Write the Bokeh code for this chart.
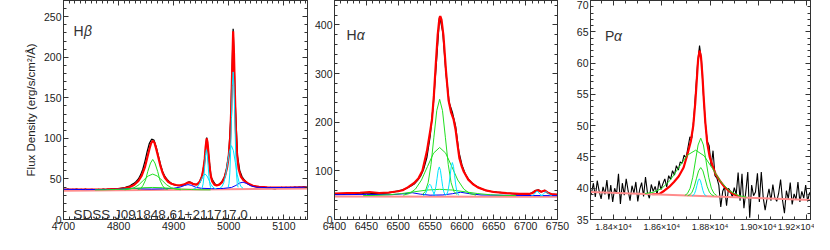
from bokeh.plotting import figure
from bokeh.layouts import row
from bokeh.models import SingleIntervalTicker, LinearAxis, Range1d, Label, CustomJSTickFormatter, Spacer
from bokeh.embed import file_html
from bokeh.resources import INLINE

# ---------------- Panel 1: H-beta ----------------
hb_wave = list(range(4700, 5141, 4))
hb_flux = [37, 36.5, 37.5, 36, 37, 36.8, 37.4, 36.2, 37, 36.5,
           37.5, 36, 36.8, 37.2, 35.8, 36.5, 37, 36.2, 37.5, 36.8, 37.3,
           37, 37.8, 37.2, 38, 37.6,
           38.5, 39, 39.2, 40.5, 41, 43, 44.5, 47, 50, 55, 62, 72, 84, 94, 99, 98, 90, 79, 68, 59, 53, 49.5, 46.5, 44.5, 43,
           42.5, 41.8, 42, 42.5, 43.5, 45, 46.5, 45.5, 43.5, 43, 44, 48, 55, 72, 101, 76, 52, 47, 43, 42.5, 44, 47, 52, 62, 80,
           128, 235, 140, 78, 60, 53, 49, 46, 44, 42.5, 41.5, 41, 40, 40.5, 39.5, 40, 39, 38.5, 39.5, 38, 37.5, 39, 38.5, 39.5, 38.8,
           39.5, 38.8, 39.6, 39, 40, 39.2, 39.8, 39.5, 40.2, 39.8]
hb_model_wave = [4700, 4720, 4740, 4760, 4780, 4800, 4810, 4820, 4828, 4836, 4842, 4848, 4852, 4856, 4859,
                 4862, 4865, 4868, 4872, 4876, 4880, 4884, 4890, 4896, 4904, 4912, 4920, 4926, 4930, 4936,
                 4942, 4947, 4951, 4954, 4956.5, 4958, 4960, 4961.5, 4963, 4965, 4967, 4970, 4974, 4978,
                 4983, 4988, 4993, 4997, 5000, 5002.5, 5004.5, 5006.5, 5008, 5009.5, 5011, 5013, 5015, 5018,
                 5022, 5026, 5030, 5036, 5044, 5055, 5070, 5090, 5110, 5143]
hb_model_flux = [37, 36.8, 36.9, 37, 37.2, 37.8, 38.5, 40, 42.5, 47.5, 54, 65, 76, 87, 94,
                 97, 95, 88, 77, 66, 57.5, 51.5, 46.5, 44, 42.5, 42, 43.5, 45.5, 45.5, 43.5,
                 43, 46, 52, 62, 75, 89, 100, 95, 83, 67, 55, 47, 43, 42,
                 43, 46, 53, 64, 78, 100, 135, 190, 232, 205, 160, 110, 80, 62,
                 53, 49, 47, 44, 41.5, 40.2, 39.5, 39.2, 39.4, 39.6]
hb_cont_wave = [4700, 5143]
hb_cont_flux = [35.5, 38.3]
hb_fe_wave = [4700, 4740, 4780, 4800, 4815, 4825, 4840, 4860, 4880, 4900, 4912, 4920, 4926, 4932, 4940,
              4950, 4970, 4990, 5005, 5013, 5020, 5026, 5032, 5040, 5050, 5070, 5100, 5143]
hb_fe_flux = [37.2, 36.9, 37.0, 37.3, 38.0, 38.6, 37.8, 37.5, 37.8, 38.5, 40.0, 42.0, 43.0, 42.2, 39.8,
              38.5, 38.0, 38.3, 39.5, 42.0, 45.0, 46.0, 44.5, 41.5, 39.8, 39.3, 39.5, 39.8]
hb_broad_waves = [
    [4835, 4840, 4844, 4849, 4853, 4858, 4862, 4866, 4871, 4875, 4880, 4884, 4889],
    [4811, 4820, 4828, 4837, 4845, 4854, 4862, 4870, 4879, 4887, 4896, 4904, 4913],
    [4757, 4774.5, 4792, 4809.5, 4827, 4844.5, 4862, 4879.5, 4897, 4914.5, 4932, 4949.5, 4967],
]
hb_broad_fluxes = [
    [36.9, 38.1, 41.6, 48.7, 59.2, 69.6, 74.0, 69.6, 59.2, 48.7, 41.6, 38.1, 36.9],
    [36.7, 37.4, 39.1, 42.8, 48.3, 53.7, 56.0, 53.7, 48.3, 42.8, 39.1, 37.4, 36.7],
    [36.53, 36.63, 36.91, 37.47, 38.32, 39.15, 39.5, 39.15, 38.32, 37.47, 36.91, 36.63, 36.53],
]
hb_narrow_waves = [
    [4950.5, 4952, 4953.5, 4955, 4956.5, 4958, 4959.5, 4961, 4962.5, 4964, 4965.5, 4967, 4968.5],
    [4936, 4939.5, 4943, 4946.5, 4950, 4953.5, 4957, 4960.5, 4964, 4967.5, 4971, 4974.5, 4978],
    [4999, 5000.5, 5002, 5003.5, 5005, 5006.5, 5008, 5009.5, 5011, 5012.5, 5014, 5015.5, 5017],
    [4984, 4987.5, 4991, 4994.5, 4998, 5001.5, 5005, 5008.5, 5012, 5015.5, 5019, 5022.5, 5026],
]
hb_narrow_fluxes = [
    [38.0, 39.6, 44.1, 53.2, 66.9, 80.3, 86.0, 80.3, 66.9, 53.2, 44.1, 39.6, 38.0],
    [37.7, 38.3, 40.0, 43.5, 48.7, 53.8, 56.0, 53.8, 48.7, 43.5, 40.0, 38.3, 37.7],
    [39.6, 44.3, 57.5, 84.8, 125.5, 165.1, 182.0, 165.1, 125.5, 84.8, 57.5, 44.3, 39.6],
    [38.6, 40.3, 45.2, 55.2, 70.1, 84.8, 91.0, 84.8, 70.1, 55.2, 45.2, 40.3, 38.6],
]

# ---------------- Panel 2: H-alpha ----------------
ha_wave = list(range(6400, 6751, 5))
ha_flux = [52.5, 51.8, 53.0, 52.2, 53.5, 52.8, 54.0, 53.2, 54.5, 53.8,
           54.6, 54.0, 53.2, 53.8, 52.8, 53.5, 54.2, 55.0, 56.0, 57.5,
           59.0, 60.5, 62.5, 65.5, 69.0, 73.0, 80.0, 89.0, 104.0, 128.0,
           170.0, 235.0, 325.0, 418.0, 385.0, 300.0, 240.0, 220.0, 192.0, 140.0,
           112.0, 94.0, 83.0, 76.0, 70.5, 66.5, 63.5, 61.0, 59.5, 58.0,
           57.0, 56.2, 55.5, 54.6, 54.0, 53.6, 53.0, 52.4, 53.2, 52.3,
           51.8, 52.2, 54.5, 59.5, 61.0, 56.5, 60.0, 55.0, 52.0, 51.5,
           51.0]
ha_model_wave = [6400, 6420, 6440, 6455, 6470, 6485, 6500, 6507, 6515, 6525, 6532, 6538, 6545, 6550,
                 6553, 6556, 6559, 6562, 6564.5, 6566, 6568, 6571, 6575, 6579, 6583, 6587, 6590, 6593,
                 6596, 6600, 6603, 6610, 6617, 6625, 6637, 6650, 6670, 6690, 6705, 6710, 6716, 6720,
                 6724, 6730, 6735, 6742, 6750]
ha_model_flux = [53, 54, 55, 56.5, 54.5, 55.5, 58, 60, 66, 75, 85, 100, 140, 180,
                 205, 255, 320, 380, 412, 418, 410, 378, 305, 245, 220, 205, 185, 155,
                 126, 108, 98, 82, 73, 66, 60, 56.5, 54, 52.8, 52.5, 54, 59, 60,
                 57, 59.5, 55, 51.5, 51]
ha_cont_wave = [6400, 6750]
ha_cont_flux = [47.5, 46.5]
ha_fe_wave = [6400, 6450, 6490, 6510, 6522, 6535, 6550, 6570, 6585, 6598, 6612, 6630, 6680, 6750]
ha_fe_flux = [51, 51.5, 51, 53, 55, 52, 50, 50.5, 53, 56, 53, 50.5, 49.5, 49]
ha_broad_waves = [
    [6538, 6542.5, 6547, 6551.5, 6556, 6560.5, 6565, 6569.5, 6574, 6578.5, 6583, 6587.5, 6592],
    [6508, 6517.5, 6527, 6536.5, 6546, 6555.5, 6565, 6574.5, 6584, 6593.5, 6603, 6612.5, 6622],
    [6445, 6465, 6485, 6505, 6525, 6545, 6565, 6585, 6605, 6625, 6645, 6665, 6685],
]
ha_broad_fluxes = [
    [51.2, 57.7, 75.8, 113.3, 169.1, 223.7, 247.0, 223.7, 169.1, 113.3, 75.8, 57.7, 51.2],
    [50.1, 53.3, 62.4, 81.1, 109.0, 136.4, 148.0, 136.4, 109.0, 81.1, 62.4, 53.3, 50.1],
    [49.1, 49.6, 50.8, 53.2, 56.9, 60.5, 62.0, 60.5, 56.9, 53.2, 50.8, 49.6, 49.1],
]
ha_narrow_waves = [
    [6539, 6540.75, 6542.5, 6544.25, 6546, 6547.75, 6549.5, 6551.25, 6553, 6554.75, 6556.5, 6558.25, 6560],
    [6554, 6555.75, 6557.5, 6559.25, 6561, 6562.75, 6564.5, 6566.25, 6568, 6569.75, 6571.5, 6573.25, 6575],
    [6574.5, 6576.25, 6578, 6579.75, 6581.5, 6583.25, 6585, 6586.75, 6588.5, 6590.25, 6592, 6593.75, 6595.5],
    [6709, 6710.5, 6712, 6713.5, 6715, 6716.5, 6718, 6719.5, 6721, 6722.5, 6724, 6725.5, 6727],
    [6723, 6724.5, 6726, 6727.5, 6729, 6730.5, 6732, 6733.5, 6735, 6736.5, 6738, 6739.5, 6741],
]
ha_narrow_fluxes = [
    [49.3, 50.0, 52.2, 56.6, 63.3, 69.7, 72.5, 69.7, 63.3, 56.6, 52.2, 50.0, 49.3],
    [49.7, 51.6, 57.0, 68.2, 84.8, 101.1, 108.0, 101.1, 84.8, 68.2, 57.0, 51.6, 49.7],
    [49.8, 52.0, 58.2, 71.1, 90.2, 109.0, 117.0, 109.0, 90.2, 71.1, 58.2, 52.0, 49.8],
    [49.1, 49.4, 50.2, 51.9, 54.5, 56.9, 58.0, 56.9, 54.5, 51.9, 50.2, 49.4, 49.1],
    [49.1, 49.4, 50.1, 51.6, 53.9, 56.1, 57.0, 56.1, 53.9, 51.6, 50.1, 49.4, 49.1],
]

# ---------------- Panel 3: P-alpha ----------------
pa_wave = list(range(18300, 19229, 8))
pa_flux = [38.5, 39.2, 40.8, 38.6, 41.2, 39.5, 38.3, 40.2, 39.0, 41.3,
           38.2, 40.5, 37.8, 40.0, 39.1, 42.3, 37.5, 40.8, 38.9, 41.5,
           39.6, 38.0, 40.4, 39.2, 41.0, 37.9, 39.8, 40.9, 38.7, 41.8,
           39.3, 38.4, 40.6, 39.5, 40.3, 39.0, 41.2, 39.8, 40.7, 41.5,
           40.2, 42.0, 41.4, 42.8, 42.1, 43.6, 42.9, 44.2, 44.0, 45.3,
           44.8, 46.5, 48.2, 48.0, 51.0, 55.5, 60.0, 62.8, 60.5, 55.0,
           50.5, 47.5, 46.8, 43.5, 46.0, 42.0, 41.6, 40.5, 37.0, 39.5,
           40.2, 37.2, 40.0, 39.5, 38.6, 40.1, 39.0, 42.5, 38.0, 42.3,
           36.8, 39.5, 42.6, 35.3, 40.5, 38.8, 39.4, 42.4, 37.8, 42.6,
           38.5, 36.5, 38.4, 39.9, 38.0, 40.6, 38.5, 37.9, 39.2, 41.4,
           38.1, 36.0, 39.6, 38.3, 40.9, 37.4, 39.1, 38.2, 41.0, 37.8,
           39.5, 38.4, 40.5, 37.9, 39.3, 38.6, 40.2]
pa_model_wave = [18560, 18590, 18610, 18630, 18650, 18670, 18690, 18705, 18720, 18730,
                 18738, 18745, 18750, 18756, 18762, 18768, 18774, 18780, 18788, 18798,
                 18810, 18822, 18840, 18860, 18880, 18900, 18920]
pa_model_flux = [39.05, 39.1, 39.6, 40.2, 41.0, 41.9, 43.3, 45.3, 47.5, 50.0,
                 53.5, 57.5, 60.5, 62.0, 61.0, 58.0, 54.0, 50.5, 47.2, 45.0,
                 43.6, 42.3, 41.2, 40.2, 39.5, 39.0, 38.7]
pa_cont_wave = [18300, 19230]
pa_cont_flux = [39.4, 38.1]
pa_broad_waves = [
    [18530, 18565, 18600, 18635, 18670, 18705, 18740, 18775, 18810, 18845, 18880, 18915, 18950],
    [18695, 18706, 18717, 18728, 18739, 18750, 18761, 18772, 18783, 18794, 18805, 18816, 18827],
    [18707, 18716, 18725, 18734, 18743, 18752, 18761, 18770, 18779, 18788, 18797, 18806, 18815],
]
pa_broad_fluxes = [
    [39.16, 39.35, 39.97, 41.30, 43.31, 45.27, 46.08, 45.18, 43.12, 41.01, 39.58, 38.86, 38.57],
    [38.85, 39.16, 40.0, 41.75, 44.36, 46.91, 48.0, 46.91, 44.36, 41.75, 40.0, 39.16, 38.85],
    [38.80, 38.95, 39.37, 40.23, 41.51, 42.77, 43.3, 42.77, 41.51, 40.23, 39.37, 38.95, 38.80],
]
pa_narrow_waves = [
    [18725, 18730, 18735, 18740, 18745, 18750, 18755, 18760, 18765, 18770, 18775, 18780, 18785],
]
pa_narrow_fluxes = [
    [38.78, 38.87, 39.12, 39.64, 40.42, 41.18, 41.5, 41.18, 40.42, 39.64, 39.12, 38.87, 38.78],
]
pa_ticks = [18400, 18600, 18800, 19000, 19200]
pa_tick_labels = ["1.84×10⁴", "1.86×10⁴", "1.88×10⁴", "1.90×10⁴", "1.92×10⁴"]

# ---------------- styling ----------------
FONT = "Liberation Sans"
AXC = "#333333"
TXT = "#333333"
C_BLACK = "#000000"
C_RED = "#ff0000"
C_PINK = "#ff8c8c"
C_BLUE = "#0000ff"
C_GREEN = "#22e022"
C_CYAN = "#00e5ff"
H = 234


def style_axis(ax, major, minor, labels=True):
    ax.ticker = SingleIntervalTicker(interval=major, num_minor_ticks=minor)
    ax.major_tick_in = 5
    ax.major_tick_out = 0
    ax.minor_tick_in = 3
    ax.minor_tick_out = 0
    ax.axis_line_color = AXC
    ax.major_tick_line_color = AXC
    ax.minor_tick_line_color = AXC
    ax.major_label_text_font = FONT
    ax.major_label_text_font_size = "10.5px"
    ax.major_label_text_color = "#222222"
    ax.major_label_text_line_height = 1.0
    if labels:
        ax.major_label_standoff = 2
    else:
        ax.formatter = CustomJSTickFormatter(code="return '';")
        ax.major_label_standoff = 0


def make_fig(width, left, right, xr, yr, xt, yt):
    p = figure(width=width, height=H, x_range=Range1d(*xr), y_range=Range1d(*yr),
               output_backend="svg", toolbar_location=None,
               min_border_left=left, min_border_right=right,
               min_border_top=0, min_border_bottom=0)
    p.xgrid.visible = False
    p.ygrid.visible = False
    p.outline_line_color = AXC
    p.background_fill_color = "white"
    p.border_fill_color = "white"
    style_axis(p.below[0], *xt)
    style_axis(p.left[0], *yt)
    top = LinearAxis()
    style_axis(top, *xt, labels=False)
    p.add_layout(top, "above")
    rgt = LinearAxis()
    style_axis(rgt, *yt, labels=False)
    p.add_layout(rgt, "right")
    return p


def draw(p, wave, flux, mwave, mflux, cwave, cflux, fwave, fflux, bw, bf, nw, nf, black_w=1.3):
    p.line(wave, flux, line_color=C_BLACK, line_width=black_w)
    p.line(mwave, mflux, line_color=C_RED, line_width=2.2)
    p.line(cwave, cflux, line_color=C_PINK, line_width=2)
    if fwave is not None:
        p.line(fwave, fflux, line_color=C_BLUE, line_width=1)
    for x, y in zip(bw, bf):
        p.line(x, y, line_color=C_GREEN, line_width=1)
    for x, y in zip(nw, nf):
        p.line(x, y, line_color=C_CYAN, line_width=1)


def add_text(p, x, y, text, size="14px", style="normal"):
    p.add_layout(Label(x=x, y=y, text=text, text_font=FONT, text_font_size=size,
                       text_font_style=style, text_color=TXT, text_baseline="alphabetic"))


# Panel 1
p1 = make_fig(288, 38, 2, (4700, 5143), (0, 270), (100, 10), (50, 5))
draw(p1, hb_wave, hb_flux, hb_model_wave, hb_model_flux, hb_cont_wave, hb_cont_flux,
     hb_fe_wave, hb_fe_flux, hb_broad_waves, hb_broad_fluxes, hb_narrow_waves, hb_narrow_fluxes)
yax = p1.left[0]
yax.axis_label = "Flux Density (erg/s/cm²/Å)"
yax.axis_label_text_font = FONT
yax.axis_label_text_font_size = "11.5px"
yax.axis_label_text_font_style = "normal"
yax.axis_label_text_color = "#222222"
yax.axis_label_standoff = 4
add_text(p1, 4718, 232, "H")
add_text(p1, 4737, 232, "β", style="italic")
add_text(p1, 4718, 6, "SDSS J091848.61+211717.0", size="13.5px")

# Panel 2
p2 = make_fig(262, 25, 14, (6400, 6750), (0, 450), (50, 5), (100, 5))
draw(p2, ha_wave, ha_flux, ha_model_wave, ha_model_flux, ha_cont_wave, ha_cont_flux,
     ha_fe_wave, ha_fe_flux, ha_broad_waves, ha_broad_fluxes, ha_narrow_waves, ha_narrow_fluxes)
add_text(p2, 6419, 379, "H")
add_text(p2, 6435, 379, "α", style="italic")

# Panel 3
p3 = make_fig(243, 19, 4, (18304, 19216), (35, 70), (200, 4), (5, 5))
draw(p3, pa_wave, pa_flux, pa_model_wave, pa_model_flux, pa_cont_wave, pa_cont_flux,
     None, None, pa_broad_waves, pa_broad_fluxes, pa_narrow_waves, pa_narrow_fluxes, black_w=1.1)
xb3 = p3.below[0]
xb3.formatter = CustomJSTickFormatter(
    args=dict(tvals=pa_ticks, tlabels=pa_tick_labels),
    code="const i = tvals.indexOf(Math.round(tick)); return i >= 0 ? tlabels[i] : '';")
xb3.major_label_text_font_size = "9px"
add_text(p3, 18364, 64.4, "P")
add_text(p3, 18401, 64.4, "α", style="italic")

layout = row(Spacer(width=21, height=H), p1, p2, p3)
open("out.html", "w").write(file_html(layout, INLINE))
